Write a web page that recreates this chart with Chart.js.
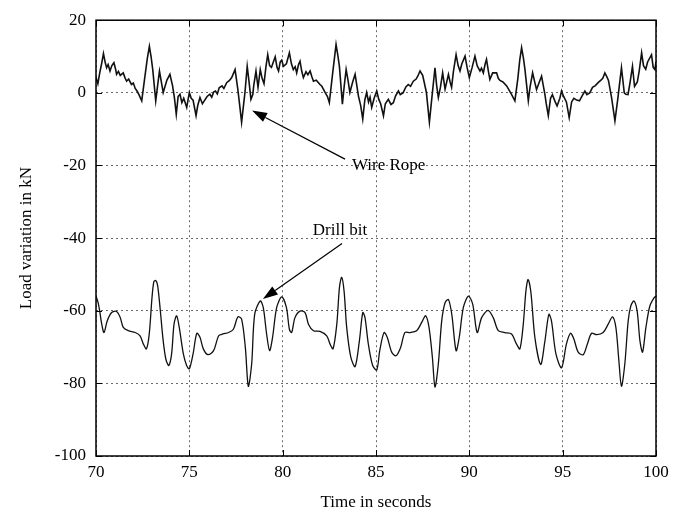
<!DOCTYPE html>
<html>
<head>
<meta charset="utf-8">
<title>Load variation</title>
<script src="https://cdn.jsdelivr.net/npm/chart.js@4/dist/chart.umd.min.js"></script>
<style>
  body { margin: 0; background: #fff; }
  #wrap { width: 690px; height: 521px; }
</style>
</head>
<body>
<div id="wrap"><canvas id="loadChart" width="690" height="521"></canvas></div>
<script>
// values (time in s, load in kN)
const wireTime = [70.0,70.1,70.2,70.3,70.4,70.5,70.57,70.65,70.75,70.85,70.96,71.05,71.1,71.2,71.3,71.46,71.55,71.64,71.75,71.9,72.0,72.1,72.2,72.3,72.45,72.6,72.75,72.86,72.95,73.04,73.2,73.3,73.4,73.5,73.6,73.8,73.96,74.1,74.2,74.3,74.4,74.5,74.6,74.7,74.86,75.0,75.1,75.2,75.36,75.45,75.57,75.7,75.8,75.95,76.1,76.2,76.3,76.4,76.5,76.6,76.75,76.85,77.0,77.15,77.27,77.45,77.6,77.7,77.8,77.9,77.98,78.1,78.2,78.3,78.4,78.45,78.57,78.68,78.8,78.9,79.0,79.1,79.2,79.3,79.4,79.5,79.6,79.7,79.78,79.87,79.95,80.04,80.2,80.36,80.47,80.57,80.67,80.75,80.85,80.93,81.02,81.11,81.25,81.35,81.47,81.56,81.65,81.8,82.0,82.1,82.27,82.4,82.5,82.68,82.86,82.95,83.04,83.2,83.3,83.4,83.5,83.6,83.75,83.88,84.06,84.18,84.29,84.4,84.5,84.6,84.68,84.77,84.9,85.04,85.15,85.25,85.4,85.5,85.66,85.8,85.93,86.05,86.2,86.3,86.45,86.6,86.73,86.85,87.0,87.15,87.25,87.36,87.5,87.6,87.7,87.86,87.98,88.16,88.25,88.34,88.45,88.57,88.7,88.88,88.97,89.05,89.15,89.29,89.4,89.5,89.6,89.77,89.88,90.0,90.15,90.3,90.42,90.57,90.65,90.75,90.85,90.92,91.02,91.1,91.25,91.46,91.55,91.64,91.8,92.0,92.1,92.26,92.44,92.6,92.7,92.8,92.9,92.98,93.16,93.25,93.39,93.5,93.6,93.75,93.87,94.05,94.12,94.23,94.35,94.45,94.6,94.7,94.85,94.94,95.05,95.2,95.35,95.48,95.6,95.75,95.9,96.05,96.19,96.3,96.45,96.6,96.75,96.9,97.05,97.15,97.26,97.35,97.45,97.62,97.8,97.95,98.15,98.3,98.38,98.5,98.6,98.74,98.85,99.0,99.1,99.23,99.33,99.45,99.55,99.76,99.85,99.94,100.0];
const wireLoad = [4.2,2.5,5.5,8.0,10.8,8.2,6.9,7.8,6.0,7.5,8.3,6.5,5.1,5.9,4.8,5.5,4.2,3.2,3.8,2.3,2.7,1.2,0.5,-0.5,-2.2,3.7,9.5,12.8,10.0,6.4,-2.2,2.0,6.0,3.0,0.1,3.5,5.1,2.0,-1.3,-5.9,-1.0,-0.4,-2.7,-1.5,-4.0,0.1,-1.5,-2.0,-6.3,-3.5,-1.3,-3.0,-2.2,-1.0,-0.4,-1.2,0.2,0.5,-0.3,1.4,1.9,1.2,2.8,3.4,4.2,6.4,0.9,-3.5,-8.1,-3.5,0.1,7.3,3.0,-1.8,-0.5,2.0,6.0,1.5,6.4,4.0,2.5,7.0,10.5,7.5,7.0,8.5,9.9,7.0,6.0,8.5,9.0,7.3,8.0,11.0,8.0,6.4,7.2,5.5,7.8,8.7,6.0,4.2,5.8,5.0,6.0,4.5,3.2,3.5,2.3,1.8,0.1,-1.0,-2.7,5.5,13.3,10.5,7.3,-3.1,2.0,6.4,3.5,0.1,3.0,5.1,-0.9,-3.5,-7.2,-2.0,0.1,-2.5,-1.2,-4.0,-1.5,0.5,-1.8,-3.0,-6.3,-3.0,-1.8,-3.2,-2.7,-0.8,0.5,-0.5,0.0,1.6,2.3,1.8,3.2,3.8,4.7,6.0,4.8,2.5,0.1,-8.1,-2.0,6.9,2.0,-1.3,1.5,5.5,1.0,5.1,3.0,1.5,6.0,10.5,7.5,6.0,8.0,10.1,7.0,4.2,7.0,10.1,7.5,6.0,6.8,5.5,8.0,9.2,6.0,3.7,5.5,5.5,4.0,3.4,3.0,1.9,1.0,-0.4,-2.2,4.0,9.0,12.4,9.5,6.4,-2.2,1.5,5.5,3.0,0.9,3.0,4.6,-0.5,-3.0,-6.3,-1.5,-0.5,-2.5,-3.6,-1.5,0.5,-1.0,-2.5,-6.8,-2.5,-1.5,-2.0,-2.2,-0.8,0.5,-0.5,0.0,1.5,2.0,2.8,3.5,4.0,5.5,4.6,3.5,-1.3,-7.7,-1.8,6.9,0.0,-0.4,-0.5,2.5,7.3,1.8,3.0,6.0,11.0,7.5,6.5,8.5,10.5,7.0,6.4,8.5];

const drillTime = [70.0,70.1,70.2,70.3,70.43,70.6,70.84,71.1,71.3,71.46,71.73,72.1,72.36,72.54,72.7,72.85,73.0,73.1,73.2,73.3,73.43,73.6,73.75,73.9,74.05,74.18,74.32,74.46,74.68,74.85,75.0,75.2,75.4,75.57,75.75,76.0,76.3,76.57,76.8,77.1,77.36,77.6,77.8,78.0,78.16,78.34,78.5,78.8,78.96,79.14,79.3,79.46,79.68,79.95,80.2,80.36,80.48,80.66,80.93,81.2,81.38,81.65,82.0,82.36,82.54,82.7,82.9,83.04,83.16,83.29,83.43,83.65,83.88,84.11,84.29,84.41,84.59,84.82,85.04,85.2,85.43,85.6,85.84,86.07,86.32,86.55,86.82,87.18,87.45,87.66,87.84,88.02,88.16,88.34,88.52,88.7,88.88,89.06,89.29,89.46,89.68,89.95,90.18,90.42,90.66,91.0,91.28,91.55,91.9,92.26,92.53,92.71,92.89,93.03,93.15,93.3,93.51,93.82,94.05,94.26,94.4,94.64,94.94,95.2,95.42,95.6,95.83,96.1,96.32,96.55,96.82,97.17,97.44,97.67,97.85,98.01,98.15,98.33,98.51,98.65,98.82,98.99,99.14,99.28,99.46,99.67,99.9,100.0];
const drillLoad = [-56.0,-57.5,-60.1,-63.5,-66.0,-62.8,-60.5,-60.2,-61.9,-64.6,-65.5,-66.0,-66.9,-69.2,-70.5,-66.5,-56.4,-52.0,-51.7,-53.0,-59.1,-68.3,-73.5,-75.1,-71.9,-63.7,-61.4,-64.6,-71.9,-75.0,-76.0,-71.9,-66.2,-67.3,-70.5,-72.1,-71.0,-66.9,-66.4,-66.0,-65.1,-61.7,-62.3,-70.1,-80.8,-74.6,-61.0,-57.3,-59.1,-66.4,-71.0,-67.3,-59.1,-56.2,-59.1,-65.1,-66.0,-61.9,-60.1,-60.5,-63.7,-65.5,-65.7,-66.9,-69.2,-70.5,-63.7,-53.7,-50.8,-54.6,-64.6,-72.8,-75.4,-68.3,-60.5,-61.9,-69.2,-75.1,-76.3,-71.0,-66.0,-67.3,-71.4,-72.4,-70.1,-66.0,-66.0,-65.5,-63.2,-61.4,-64.6,-72.8,-81.0,-74.6,-62.8,-57.8,-56.9,-61.0,-71.0,-67.3,-59.1,-56.0,-58.2,-66.0,-61.9,-59.9,-61.9,-65.5,-66.0,-66.4,-69.2,-70.5,-63.7,-54.6,-51.4,-55.0,-67.3,-74.8,-68.3,-61.0,-62.8,-71.9,-75.7,-69.2,-66.2,-67.8,-71.4,-72.1,-69.2,-66.2,-66.6,-66.0,-63.7,-61.7,-64.6,-73.7,-80.8,-74.6,-62.8,-58.7,-57.3,-60.1,-68.3,-71.4,-64.6,-58.7,-56.4,-56.0];

const xTicks = [70, 75, 80, 85, 90, 95, 100];
const yTicks = [20, 0, -20, -40, -60, -80, -100];

// text labels with arrows, in data units
const notes = [
  { text: 'Wire Rope', tx: 83.71, ty: -19.9, align: 'left', from: [83.34, -18.25], to: [78.36, -4.86] },
  { text: 'Drill bit', tx: 83.07, ty: -37.9, align: 'center', from: [83.18, -41.5], to: [78.94, -56.8] }
];

const serif = 'Liberation Serif, Times New Roman, serif';

function toPoints(xs, ys) {
  return xs.map((x, i) => ({ x: x, y: ys[i] }));
}

const frame = {
  id: 'frame',
  afterDatasetsDraw(chart) {
    const ctx = chart.ctx;
    const a = chart.chartArea;
    const sx = chart.scales.x, sy = chart.scales.y;
    ctx.save();
    // small inward ticks
    ctx.strokeStyle = '#000';
    ctx.lineWidth = 1;
    ctx.beginPath();
    xTicks.forEach(v => {
      const px = Math.round(sx.getPixelForValue(v)) + 0.5;
      ctx.moveTo(px, a.bottom); ctx.lineTo(px, a.bottom - 6);
      ctx.moveTo(px, a.top); ctx.lineTo(px, a.top + 6);
    });
    yTicks.forEach(v => {
      const py = Math.round(sy.getPixelForValue(v)) + 0.5;
      ctx.moveTo(a.left, py); ctx.lineTo(a.left + 6, py);
      ctx.moveTo(a.right, py); ctx.lineTo(a.right - 6, py);
    });
    ctx.stroke();
    // box
    ctx.lineWidth = 1.5;
    ctx.strokeRect(a.left, a.top, a.right - a.left, a.bottom - a.top);

    // annotations
    ctx.font = '17px ' + serif;
    ctx.fillStyle = '#000';
    ctx.textBaseline = 'middle';
    notes.forEach(n => {
      ctx.textAlign = n.align;
      ctx.fillText(n.text, sx.getPixelForValue(n.tx), sy.getPixelForValue(n.ty));
      const x1 = sx.getPixelForValue(n.from[0]), y1 = sy.getPixelForValue(n.from[1]);
      const x2 = sx.getPixelForValue(n.to[0]), y2 = sy.getPixelForValue(n.to[1]);
      const ang = Math.atan2(y2 - y1, x2 - x1);
      const len = 15, half = 5;
      const bx = x2 - len * Math.cos(ang), by = y2 - len * Math.sin(ang);
      ctx.lineWidth = 1.2;
      ctx.beginPath();
      ctx.moveTo(x1, y1);
      ctx.lineTo(bx, by);
      ctx.stroke();
      ctx.beginPath();
      ctx.moveTo(x2, y2);
      ctx.lineTo(bx + half * Math.sin(ang), by - half * Math.cos(ang));
      ctx.lineTo(bx - half * Math.sin(ang), by + half * Math.cos(ang));
      ctx.closePath();
      ctx.fill();
    });
    ctx.restore();
  }
};

const ctx = document.getElementById('loadChart').getContext('2d');
const loadChart = new Chart(ctx, {
  type: 'line',
  data: {
    datasets: [
      {
        label: 'Wire Rope',
        data: toPoints(wireTime, wireLoad),
        borderColor: '#111',
        borderWidth: 1.6,
        pointRadius: 0,
        tension: 0,
        fill: false
      },
      {
        label: 'Drill bit',
        data: toPoints(drillTime, drillLoad),
        borderColor: '#111',
        borderWidth: 1.3,
        pointRadius: 0,
        tension: 0.3,
        fill: false
      }
    ]
  },
  options: {
    responsive: false,
    animation: false,
    devicePixelRatio: 1,
    layout: { padding: { left: 0, right: 34, top: 17, bottom: 0 } },
    plugins: {
      legend: { display: false },
      tooltip: { enabled: false }
    },
    scales: {
      x: {
        type: 'linear',
        min: 70,
        max: 100,
        afterBuildTicks: s => { s.ticks = xTicks.map(v => ({ value: v })); },
        afterFit: s => { s.height = 65; },
        ticks: { color: '#000', font: { family: serif, size: 17 }, padding: 6, maxRotation: 0 },
        grid: { color: '#444', lineWidth: 0.8, drawTicks: false },
        border: { display: false, dash: [2, 3] },
        title: { display: true, text: 'Time in seconds', color: '#000', font: { family: serif, size: 17 }, padding: { top: 4, bottom: 8 } }
      },
      y: {
        min: -100,
        max: 20,
        afterBuildTicks: s => { s.ticks = yTicks.slice().reverse().map(v => ({ value: v })); },
        afterFit: s => { s.width = 96; },
        ticks: { color: '#000', font: { family: serif, size: 17 }, padding: 10 },
        grid: { color: '#444', lineWidth: 0.8, drawTicks: false },
        border: { display: false, dash: [2, 3] },
        title: { display: true, text: 'Load variation in kN', color: '#000', font: { family: serif, size: 17 }, padding: { top: 16, bottom: 0 } }
      }
    }
  },
  plugins: [frame]
});
</script>
</body>
</html>
